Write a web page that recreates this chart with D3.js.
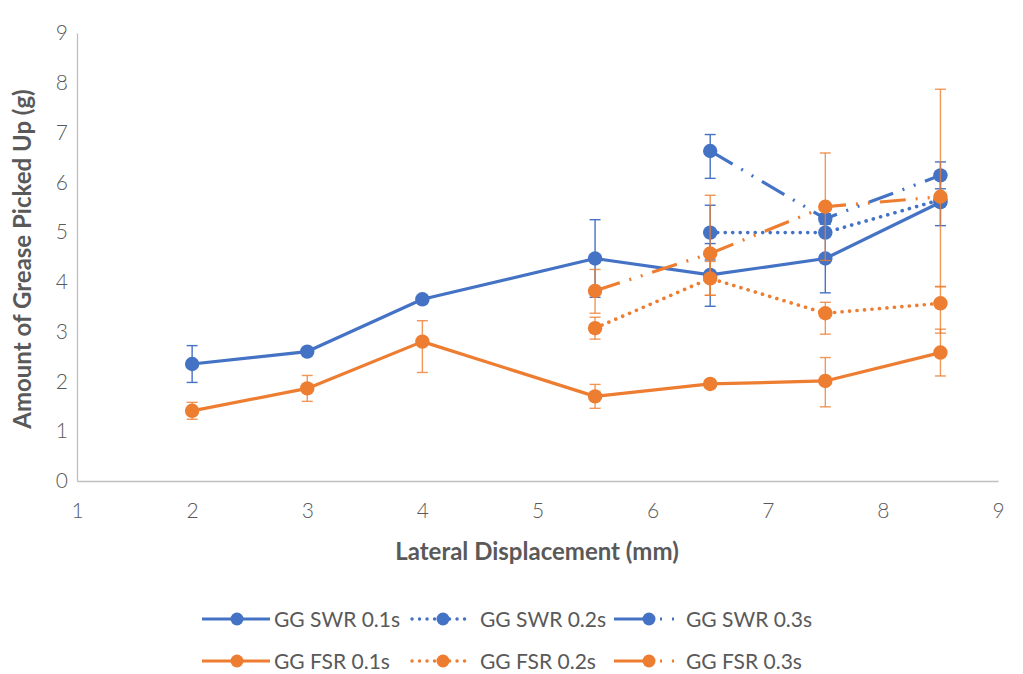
<!DOCTYPE html>
<html><head><meta charset="utf-8">
<script src="https://cdn.jsdelivr.net/npm/d3@7/dist/d3.min.js"></script>
<style>body{margin:0;background:#fff}svg{display:block}</style>
</head><body><svg id="c" width="1023" height="674"></svg>
<script>
// ---- data ----
const xTickValues = [1, 2, 3, 4, 5, 6, 7, 8, 9];
const yTickValues = [0, 1, 2, 3, 4, 5, 6, 7, 8, 9];
const xTitle = "Lateral Displacement (mm)";
const yTitle = "Amount of Grease Picked Up (g)";

const xFull = [2, 3, 4, 5.5, 6.5, 7.5, 8.5];
const xFrom55 = [5.5, 6.5, 7.5, 8.5];
const xFrom65 = [6.5, 7.5, 8.5];

const swr01 = [2.35, 2.60, 3.65, 4.47, 4.14, 4.47, 5.60];
const swr01Up = [0.37, 0.05, 0.07, 0.78, 0.63, 0.69, 0.47];
const swr01Down = [0.37, 0.05, 0.07, 0.78, 0.63, 0.69, 0.47];

const swr02 = [4.99, 4.99, 5.65];
const swr02Up = [0.55, 0.05, 0.10];
const swr02Down = [0.55, 0.05, 0.10];

const swr03 = [6.63, 5.27, 6.14];
const swr03Up = [0.33, 0.10, 0.27];
const swr03Down = [0.55, 0.10, 0.27];

const fsr01 = [1.41, 1.86, 2.80, 1.70, 1.95, 2.01, 2.58];
const fsr01Up = [0.17, 0.26, 0.42, 0.24, 0.08, 0.47, 0.47];
const fsr01Down = [0.17, 0.26, 0.62, 0.24, 0.08, 0.52, 0.47];

const fsr02 = [3.07, 4.07, 3.37, 3.57];
const fsr02Up = [0.22, 0.34, 0.22, 0.33];
const fsr02Down = [0.22, 0.34, 0.42, 0.60];

const fsr03 = [3.82, 4.57, 5.51, 5.71];
const fsr03Up = [0.43, 1.17, 1.08, 2.16];
const fsr03Down = [0.45, 0.84, 1.08, 1.80];

const seriesNames = ["GG SWR 0.1s", "GG SWR 0.2s", "GG SWR 0.3s", "GG FSR 0.1s", "GG FSR 0.2s", "GG FSR 0.3s"];

// ---- styles ----
const BLUE = "#4472C4", ORANGE = "#ED7D31";
const dashStyles = { solid: null, dot: "0.1,7.4", dashdot: "26,10,2,10,2,10" };
const legendDash = { solid: null, dot: "0.1,7.4", dashdot: "30,16,2,10,2,40" };

const series = [
  { name: seriesNames[0], xs: xFull, ys: swr01, up: swr01Up, dn: swr01Down, color: BLUE, style: "solid" },
  { name: seriesNames[1], xs: xFrom65, ys: swr02, up: swr02Up, dn: swr02Down, color: BLUE, style: "dot" },
  { name: seriesNames[2], xs: xFrom65, ys: swr03, up: swr03Up, dn: swr03Down, color: BLUE, style: "dashdot" },
  { name: seriesNames[3], xs: xFull, ys: fsr01, up: fsr01Up, dn: fsr01Down, color: ORANGE, style: "solid" },
  { name: seriesNames[4], xs: xFrom55, ys: fsr02, up: fsr02Up, dn: fsr02Down, color: ORANGE, style: "dot" },
  { name: seriesNames[5], xs: xFrom55, ys: fsr03, up: fsr03Up, dn: fsr03Down, color: ORANGE, style: "dashdot" }
].map(s => ({ ...s, pts: s.xs.map((x, i) => ({ x, y: s.ys[i], up: s.up[i], dn: s.dn[i] })) }));

const svg = d3.select("#c");
svg.append("rect").attr("width", 1023).attr("height", 674).attr("fill", "#fff");

const x = d3.scaleLinear().domain([1, 9]).range([77, 998]);
const y = d3.scaleLinear().domain([0, 9]).range([481, 33]);

const FONT = "Lato, 'Open Sans', sans-serif";
const TXT = "#595959";

// axes
const gx = svg.append("g").attr("transform", "translate(0,481)")
  .call(d3.axisBottom(x).tickValues(xTickValues).tickSize(0).tickPadding(22).tickFormat(d3.format("d")));
const gy = svg.append("g").attr("transform", "translate(77,0)")
  .call(d3.axisLeft(y).tickValues(yTickValues).tickSize(0).tickPadding(9).tickFormat(d3.format("d")));
[gx, gy].forEach(g => {
  g.select(".domain").attr("stroke", "#bfbfbf").attr("stroke-width", 1.3);
  g.selectAll("text").attr("fill", TXT).style("font-family", FONT).style("font-size", "21px").style("font-weight", 300);
});

// titles
svg.append("text").attr("x", 537).attr("y", 560).attr("text-anchor", "middle")
  .attr("fill", TXT).style("font-family", FONT).style("font-size", "24px").style("font-weight", 700).text(xTitle);
svg.append("text").attr("transform", "translate(31,259) rotate(-90)").attr("text-anchor", "middle")
  .attr("fill", TXT).style("font-family", FONT).style("font-size", "24px").style("font-weight", 700).text(yTitle);

// series
const line = d3.line().x(d => x(d.x)).y(d => y(d.y));
series.forEach(s => {
  const g = svg.append("g");
  const eb = g.append("g").attr("stroke", s.color).attr("stroke-width", 1.4)
    .attr("stroke-opacity", s.color === ORANGE ? 0.8 : 1);
  s.pts.forEach(p => {
    const cx = x(p.x), y1 = y(p.y + p.up), y0 = y(p.y - p.dn);
    eb.append("line").attr("x1", cx).attr("x2", cx).attr("y1", y1).attr("y2", y0);
    eb.append("line").attr("x1", cx - 5.5).attr("x2", cx + 5.5).attr("y1", y1).attr("y2", y1);
    eb.append("line").attr("x1", cx - 5.5).attr("x2", cx + 5.5).attr("y1", y0).attr("y2", y0);
  });
  g.append("path").datum(s.pts).attr("d", line).attr("fill", "none")
    .attr("stroke", s.color).attr("stroke-width", s.style === "dot" ? 3.6 : 3.2)
    .attr("stroke-linecap", s.style === "dot" ? "round" : "butt")
    .attr("stroke-linejoin", "round")
    .attr("stroke-dasharray", dashStyles[s.style]);
  g.selectAll("circle").data(s.pts).join("circle")
    .attr("cx", d => x(d.x)).attr("cy", d => y(d.y)).attr("r", 7.2).attr("fill", s.color);
});

// legend
const colX = [202, 408, 614], rowY = [619, 661];
series.forEach((s, i) => {
  const cx = colX[i % 3], cy = rowY[Math.floor(i / 3)];
  const g = svg.append("g");
  const isDot = s.style === "dot";
  g.append("line").attr("x1", cx + (isDot ? 4 : 0)).attr("x2", cx + (isDot ? 64 : 68)).attr("y1", cy).attr("y2", cy)
    .attr("stroke", s.color).attr("stroke-width", isDot ? 3.4 : 3.2)
    .attr("stroke-linecap", isDot ? "round" : "butt")
    .attr("stroke-dasharray", legendDash[s.style]);
  g.append("circle").attr("cx", cx + 35).attr("cy", cy).attr("r", 6.5).attr("fill", s.color);
  g.append("text").attr("x", cx + 72).attr("y", cy).attr("dy", "0.36em")
    .attr("fill", TXT).style("font-family", FONT).style("font-size", "21px").text(s.name);
});
</script></body></html>
